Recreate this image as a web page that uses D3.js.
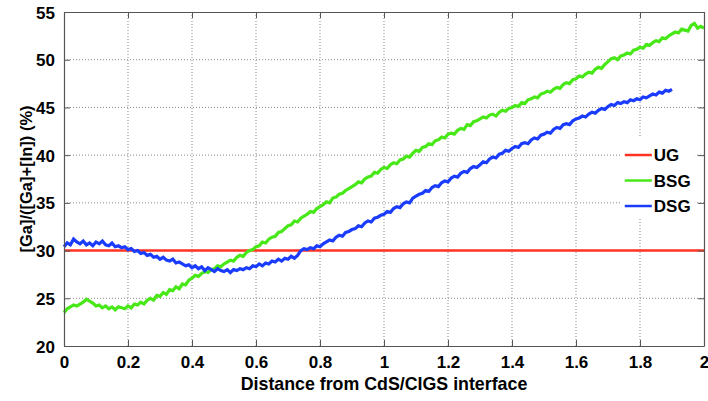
<!DOCTYPE html>
<html>
<head>
<meta charset="utf-8">
<script src="https://cdn.jsdelivr.net/npm/d3@7/dist/d3.min.js"></script>
<style>
  body { margin: 0; background: #fff; }
  text { font-family: "Liberation Sans", Arial, sans-serif; font-weight: bold; fill: #000; }
</style>
</head>
<body>
<div id="chart"></div>
<script>
// Ga ratio depth profiles, sampled every 0.01 along the distance axis
var x_step = 0.01;

var ug_values = [30, 30];
var ug_x = [0, 2];

var bsg_values = [
  23.5, 23.9, 24.1, 24.3, 24.2, 24.4, 24.6, 24.9, 24.7, 24.5,
  24.2, 24.3, 24.0, 24.2, 23.9, 24.1, 23.8, 24.1, 24.0, 23.9,
  24.2, 24.0, 24.4, 24.3, 24.6, 24.4, 24.8, 25.0, 24.8, 25.3,
  25.2, 25.6, 25.4, 25.9, 25.8, 26.2, 26.0, 26.5, 26.4, 26.9,
  27.1, 27.4, 27.3, 27.6, 27.8, 27.7, 28.0, 28.1, 28.4, 28.3,
  28.6, 28.8, 29.0, 28.9, 29.3, 29.5, 29.4, 29.8, 30.0, 30.1,
  30.4, 30.5, 30.9, 30.8, 31.2, 31.4, 31.5, 31.9, 32.0, 32.3,
  32.6, 32.7, 33.1, 33.0, 33.4, 33.6, 33.8, 34.1, 34.0, 34.4,
  34.6, 34.8, 35.1, 35.0, 35.5, 35.6, 35.9, 36.0, 36.3, 36.5,
  36.7, 36.9, 37.2, 37.1, 37.5, 37.7, 37.8, 38.2, 38.1, 38.5,
  38.7, 38.6, 39.0, 39.2, 39.1, 39.5, 39.6, 39.9, 39.8, 40.2,
  40.5, 40.4, 40.8, 40.9, 41.2, 41.1, 41.5, 41.6, 41.9, 41.8,
  42.2, 42.3, 42.2, 42.6, 42.8, 42.7, 43.2, 43.1, 43.5, 43.6,
  43.8, 44.0, 43.9, 44.2, 44.3, 44.1, 44.5, 44.7, 44.6, 44.9,
  45.0, 45.2, 45.1, 45.5, 45.4, 45.8, 45.9, 46.1, 46.0, 46.4,
  46.5, 46.7, 46.6, 46.9, 47.1, 47.0, 47.4, 47.6, 47.5, 47.9,
  48.0, 48.3, 48.2, 48.5, 48.7, 48.6, 49.0, 49.2, 49.1, 49.5,
  49.8, 50.1, 50.2, 50.0, 50.4, 50.5, 50.7, 50.6, 51.0, 51.1,
  51.3, 51.2, 51.6, 51.5, 51.8, 52.0, 51.9, 52.3, 52.2, 52.5,
  52.7, 52.9, 52.8, 53.2, 53.1, 53.0, 53.6, 53.8, 53.3, 53.5,
  53.3
];

var dsg_values = [
  30.4, 30.8, 30.6, 31.2, 30.9, 30.7, 31.0, 30.6, 30.8, 30.5,
  30.9, 30.7, 31.0, 30.6, 30.5, 30.8, 30.4, 30.5, 30.3, 30.4,
  30.1, 30.2, 29.9, 30.0, 29.7, 29.8, 29.5, 29.6, 29.3, 29.4,
  29.1, 29.3, 29.0, 28.9, 29.1, 28.7, 28.8, 28.6, 28.4, 28.5,
  28.2, 28.4, 28.1, 28.3, 27.9, 28.2, 28.0, 27.8, 28.1, 27.9,
  27.8, 28.0, 27.7, 28.0, 27.9, 28.1, 28.0, 28.2, 28.1, 28.4,
  28.3, 28.6, 28.4, 28.7, 28.6, 28.9, 28.8, 29.1, 28.9, 29.2,
  29.1, 29.4, 29.2, 29.5, 30.0, 30.2, 30.1, 30.3, 30.2, 30.5,
  30.4, 30.7, 30.9, 31.1, 31.0, 31.4, 31.6, 31.5, 31.9, 32.0,
  32.2, 32.3, 32.6, 32.5, 32.9, 33.1, 33.0, 33.4, 33.5, 33.7,
  33.8, 34.1, 34.0, 34.4, 34.6, 34.5, 34.9, 35.1, 35.0, 35.5,
  35.7, 35.9, 36.0, 36.3, 36.2, 36.6, 36.8, 36.7, 37.1, 37.3,
  37.2, 37.6, 37.8, 37.7, 38.1, 38.3, 38.2, 38.6, 38.8, 38.7,
  39.0, 39.3, 39.2, 39.6, 39.8, 39.7, 40.1, 40.2, 40.5, 40.4,
  40.7, 40.9, 40.8, 41.2, 41.3, 41.2, 41.6, 41.8, 41.7, 42.1,
  42.2, 42.4, 42.3, 42.7, 42.9, 42.8, 43.2, 43.3, 43.2, 43.6,
  43.8, 43.9, 44.1, 44.0, 44.3, 44.5, 44.4, 44.7, 44.9, 44.8,
  45.1, 45.3, 45.2, 45.5, 45.4, 45.6, 45.5, 45.8, 45.7, 45.9,
  45.8, 46.1, 46.0, 46.2, 46.4, 46.3, 46.6, 46.5, 46.8, 46.7,
  46.9
];

var x_ticks = [0, 0.2, 0.4, 0.6, 0.8, 1, 1.2, 1.4, 1.6, 1.8, 2];
var y_ticks = [20, 25, 30, 35, 40, 45, 50, 55];
var series_names = ['UG', 'BSG', 'DSG'];
var series_colors = ['#ff3322', '#48e818', '#1a3cff'];

var width = 708,
    height = 401,
    margin = {left: 64, right: 4, top: 12, bottom: 55},
    plot_w = width - margin.left - margin.right,
    plot_h = height - margin.top - margin.bottom;

var svg = d3.select('#chart').append('svg')
    .attr('width', width)
    .attr('height', height);

var g = svg.append('g')
    .attr('transform', 'translate(' + margin.left + ',' + margin.top + ')');

var x = d3.scaleLinear().domain([0, 2]).range([0, plot_w]);
var y = d3.scaleLinear().domain([20, 55]).range([plot_h, 0]);

// dotted grid
g.append('g').selectAll('line')
    .data(x_ticks.slice(1, -1))
    .enter().append('line')
    .attr('x1', d => x(d)).attr('x2', d => x(d))
    .attr('y1', 0).attr('y2', plot_h)
    .style('stroke', '#888').style('stroke-dasharray', '1,2');

g.append('g').selectAll('line')
    .data(y_ticks.slice(1, -1))
    .enter().append('line')
    .attr('y1', d => y(d)).attr('y2', d => y(d))
    .attr('x1', 0).attr('x2', plot_w)
    .style('stroke', '#888').style('stroke-dasharray', '1,2');

// curves
var line = d3.line()
    .x(d => x(d[0]))
    .y(d => y(d[1]));

var series = [
  ug_x.map((v, i) => [v, ug_values[i]]),
  bsg_values.map((v, i) => [i * x_step, v]),
  dsg_values.map((v, i) => [i * x_step, v])
];

g.append('g').selectAll('path')
    .data(series)
    .enter().append('path')
    .attr('d', line)
    .style('fill', 'none')
    .style('stroke', (d, i) => series_colors[i])
    .style('stroke-width', (d, i) => i == 0 ? 2.5 : 3.2)
    .style('stroke-linejoin', 'miter');

// axes with inward ticks, boxed
var tick_len = 6;
var xAxis = d3.axisBottom(x).tickValues(x_ticks).tickSizeInner(-tick_len).tickSizeOuter(0)
    .tickPadding(10).tickFormat(d3.format('~g'));
var yAxis = d3.axisLeft(y).tickValues(y_ticks).tickSizeInner(-tick_len).tickSizeOuter(0)
    .tickPadding(9);

var gx = g.append('g').attr('transform', 'translate(0,' + plot_h + ')').call(xAxis);
var gy = g.append('g').call(yAxis);
g.append('g').call(d3.axisTop(x).tickValues(x_ticks).tickSizeInner(-tick_len).tickSizeOuter(0).tickFormat(''));
g.append('g').attr('transform', 'translate(' + plot_w + ',0)')
    .call(d3.axisRight(y).tickValues(y_ticks).tickSizeInner(-tick_len).tickSizeOuter(0).tickFormat(''));

g.selectAll('.domain').style('stroke', '#555').style('stroke-width', 1.2);
g.selectAll('.tick line').style('stroke', '#555');
g.selectAll('.tick text').style('font-size', '17px').style('font-family', '"Liberation Sans", Arial, sans-serif')
    .style('font-weight', 'bold').style('fill', '#000');
gy.selectAll('.tick text').attr('dy', '0.36em');

// legend, white box without border
var legend = g.append('g').attr('transform', 'translate(' + x(1.74) + ',' + y(41.9) + ')');
legend.append('rect')
    .attr('x', 0).attr('y', 0)
    .attr('width', 74).attr('height', 82)
    .style('fill', '#fff');
var item = legend.selectAll('.item')
    .data(series_names)
    .enter().append('g')
    .attr('transform', (d, i) => 'translate(0,' + (18 + i * 25.5) + ')');
item.append('line')
    .attr('x1', 4).attr('x2', 31)
    .style('stroke', (d, i) => series_colors[i])
    .style('stroke-width', 2.5);
item.append('text')
    .attr('x', 33).attr('dy', '0.36em')
    .style('font-size', '17px')
    .text(d => d);

// axis titles
svg.append('text')
    .attr('x', margin.left + plot_w / 2)
    .attr('y', 390)
    .attr('text-anchor', 'middle')
    .style('font-size', '17.8px')
    .text('Distance from CdS/CIGS interface');

svg.append('text')
    .attr('transform', 'translate(32,' + (margin.top + plot_h / 2) + ') rotate(-90)')
    .attr('text-anchor', 'middle')
    .style('font-size', '16.5px')
    .text('[Ga]/([Ga]+[In]) (%)');
</script>
</body>
</html>
